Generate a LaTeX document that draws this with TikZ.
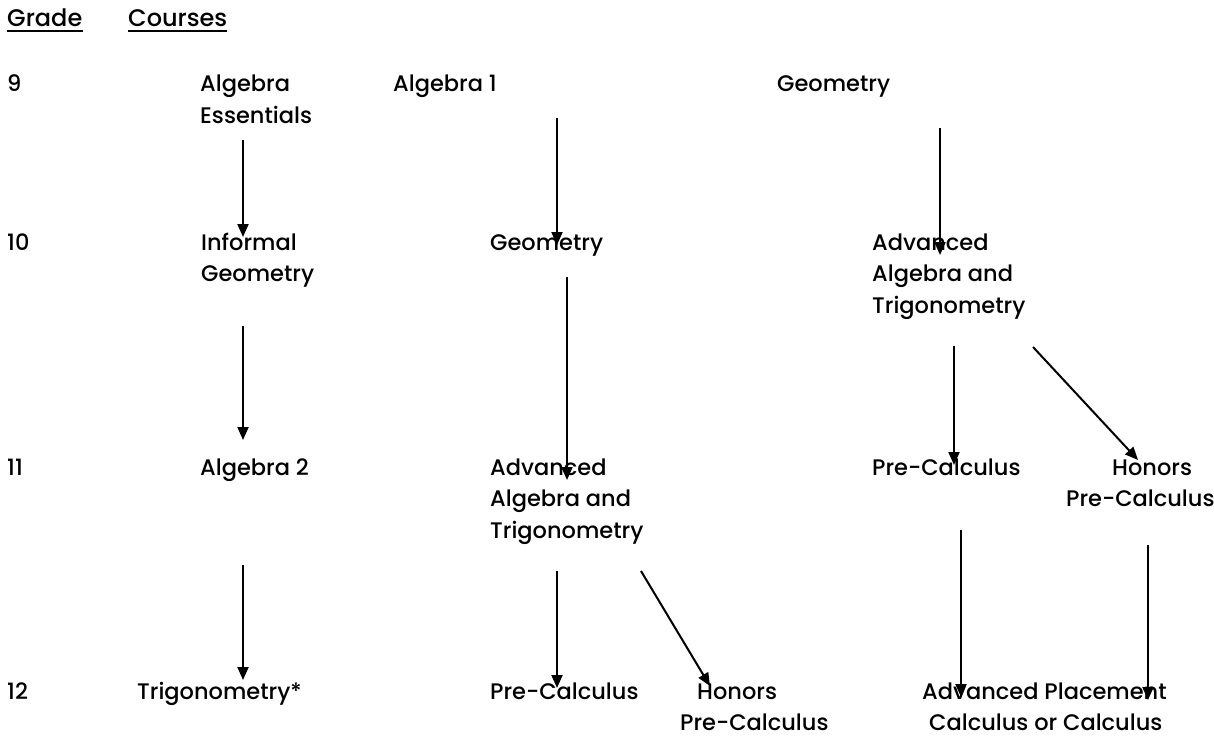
\documentclass[tikz,border=0pt]{standalone}
\usepackage{fontspec}
\setmainfont{Poppins Medium}
\usetikzlibrary{arrows.meta}
\begin{document}
\begin{tikzpicture}[x=1pt,y=-1pt,
  lbl/.style={anchor=base west,inner sep=0pt,align=left,font=\fontsize{22.5}{31.5}\selectfont},
  hdr/.style={lbl,font=\fontsize{24}{31.5}\selectfont},
  uline/.style={line width=1.8pt},
  arr/.style={line width=2pt,-{Triangle[length=13pt,width=11pt]}}]
\useasboundingbox (0,0) rectangle (1214,738);
% headers (anchors at last-line baseline)
\node[hdr] (grade) at (7,27) {Grade};
\node[hdr] (courses) at (128,27) {Courses};
\draw[uline] ([yshift=-4pt]grade.base west) -- ([yshift=-4pt]grade.base east);
\draw[uline] ([yshift=-4pt]courses.base west) -- ([yshift=-4pt]courses.base east);
% grade labels
\node[lbl] (g9) at (7,92) {9};
\node[lbl] (g10) at (7,250) {10};
\node[lbl] (g11) at (7,475) {11};
\node[lbl] (g12) at (7,699) {12};
% row 9
\node[lbl] (ae) at (200,123.5) {Algebra\\Essentials};
\node[lbl] (a1) at (393,92) {Algebra 1};
\node[lbl] (geo9) at (777,92) {Geometry};
% row 10
\node[lbl] (ig) at (201,281.5) {Informal\\Geometry};
\node[lbl] (geo10) at (490,250) {Geometry};
\node[lbl] (aat10) at (872,313) {Advanced\\Algebra and\\Trigonometry};
% row 11
\node[lbl] (a2) at (200,475) {Algebra 2};
\node[lbl] (aat11) at (490,538) {Advanced\\Algebra and\\Trigonometry};
\node[lbl] (pc11) at (872,475) {Pre-Calculus};
\node[lbl] (hpc11) at (1066,506.5) {\hspace*{46pt}Honors\\Pre-Calculus};
% row 12
\node[lbl] (trig) at (137,699) {Trigonometry*};
\node[lbl] (pc12) at (490,699) {Pre-Calculus};
\node[lbl] (hpc12) at (680,730.5) {\hspace*{17pt}Honors\\Pre-Calculus};
\node[lbl] (ap) at (922,730.5) {Advanced Placement\\\hspace*{7pt}Calculus or Calculus};
% arrow endpoints
\coordinate (s1) at (243,140); \coordinate (e1) at (243,237);
\coordinate (s2) at (557,118); \coordinate (e2) at (557,245);
\coordinate (s3) at (940,128); \coordinate (e3) at (940,255);
\coordinate (s4) at (243,326); \coordinate (e4) at (243,440);
\coordinate (s5) at (567,277); \coordinate (e5) at (567,480);
\coordinate (s6) at (954,346); \coordinate (e6) at (954,465);
\coordinate (s7) at (1033,347); \coordinate (e7) at (1138,460);
\coordinate (s8) at (243,565); \coordinate (e8) at (243,680);
\coordinate (s9) at (557,571); \coordinate (e9) at (557,688);
\coordinate (s10) at (641,571); \coordinate (e10) at (710,686);
\coordinate (s11) at (961,530); \coordinate (e11) at (961,697);
\coordinate (s12) at (1148,545); \coordinate (e12) at (1148,700);
\foreach \i in {1,...,12} \draw[arr] (s\i) -- (e\i);
\end{tikzpicture}
\end{document}
